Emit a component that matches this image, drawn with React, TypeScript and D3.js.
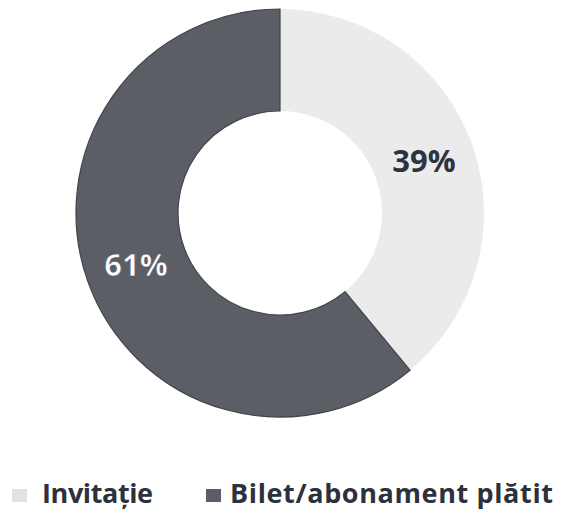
import React from "react";
import * as d3 from "d3";

const categories = ["Invitație", "Bilet/abonament plătit"];
const values = [39, 61];
const labels = ["39%", "61%"];
const colors = ["#ebebeb", "#5c5e66"];
const labelColors = ["#2e3340", "#ffffff"];

const W = 562;
const H = 513;
const cx = 280;
const cy = 213;
const outerR = 204;
const innerR = 102;

export default function App() {
  const pie = d3
    .pie<number>()
    .sort(null)
    .startAngle(0)
    .endAngle(2 * Math.PI)
    .value((d) => d);
  const arcs = pie(values);
  const arc = d3.arc<d3.PieArcDatum<number>>().innerRadius(innerR).outerRadius(outerR);
  const font = "'Open Sans', Lato, sans-serif";

  const legendItems = [
    { x: 12, tx: 42, len: 111 },
    { x: 206, tx: 230, len: 323 },
  ];

  return (
    <svg
      width={W}
      height={H}
      style={{ position: "absolute", left: 0, top: 0, background: "#ffffff" }}
    >
      <g transform={`translate(${cx},${cy})`}>
        {arcs.map((a, i) => (
          <path
            key={i}
            d={arc(a) || ""}
            fill={colors[i]}
            stroke={i === 1 ? "#40434b" : "none"}
            strokeWidth={i === 1 ? 1.2 : 0}
          />
        ))}
        {arcs.map((a, i) => {
          const [x, y] = arc.centroid(a);
          return (
            <text
              key={i}
              x={x}
              y={y}
              dy="0.36em"
              textAnchor="middle"
              fontFamily={font}
              fontWeight={700}
              fontSize={31}
              fill={labelColors[i]}
              stroke={i === 1 ? "#4a4d55" : "none"}
              strokeWidth={i === 1 ? 0.6 : 0}
            >
              {labels[i]}
            </text>
          );
        })}
      </g>
      {categories.map((c, i) => (
        <g key={c}>
          <rect
            x={legendItems[i].x}
            y={489}
            width={15}
            height={13}
            fill={i === 0 ? "#e2e2e2" : "#5c5e66"}
          />
          <text
            x={legendItems[i].tx}
            y={503}
            fontFamily={font}
            fontWeight={700}
            fontSize={27}
            fill="#2c313b"
            textLength={legendItems[i].len}
            lengthAdjust="spacing"
          >
            {c}
          </text>
        </g>
      ))}
    </svg>
  );
}
